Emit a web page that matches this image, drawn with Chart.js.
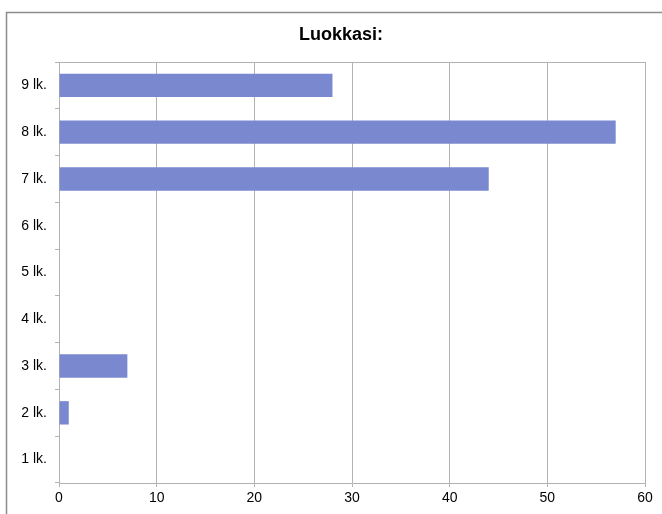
<!DOCTYPE html>
<html>
<head>
<meta charset="utf-8">
<script src="https://cdn.jsdelivr.net/npm/chart.js@4"></script>
<style>
  body { margin: 0; background: #fff; }
  #wrap { width: 662px; height: 514px; }
</style>
</head>
<body>
<div id="wrap"><canvas id="myChart" width="662" height="514"></canvas></div>
<script>
var chartTitle = 'Luokkasi:';
var labels = ['9 lk.', '8 lk.', '7 lk.', '6 lk.', '5 lk.', '4 lk.', '3 lk.', '2 lk.', '1 lk.'];
var values = [28, 57, 44, 0, 0, 0, 7, 1, 0];

// frame round the whole picture, title, top edge of plot
var framePlugin = {
  id: 'frame',
  beforeDraw: function (chart) {
    var c = chart.ctx;
    c.save();
    c.fillStyle = '#fff';
    c.fillRect(0, 0, chart.width, chart.height);
    c.strokeStyle = '#8c8c8c';
    c.lineWidth = 1.5;
    c.strokeRect(6.5, 12.5, 720, 600);
    c.restore();
  },
  afterDraw: function (chart) {
    var a = chart.chartArea;
    var c = chart.ctx;
    c.save();
    c.strokeStyle = '#b3b3b3';
    c.lineWidth = 1;
    c.beginPath();
    c.moveTo(a.left, Math.round(a.top) + 0.5);
    c.lineTo(a.right, Math.round(a.top) + 0.5);
    c.stroke();
    c.fillStyle = '#000';
    c.font = 'bold 18px "Liberation Sans"';
    c.textAlign = 'center';
    c.textBaseline = 'middle';
    c.fillText(chartTitle, 341, 35);
    c.restore();
  }
};

var ctx = document.getElementById('myChart');
var myChart = new Chart(ctx, {
  type: 'bar',
  data: {
    labels: labels,
    datasets: [{
      data: values,
      backgroundColor: '#7a89cf',
      barPercentage: 0.5,
      categoryPercentage: 1.0
    }]
  },
  options: {
    indexAxis: 'y',
    responsive: false,
    animation: false,
    layout: { padding: { left: 0, right: 17, top: 62, bottom: 0 } },
    plugins: {
      legend: { display: false },
      tooltip: { enabled: false },
      title: { display: false }
    },
    scales: {
      x: {
        min: 0,
        max: 60,
        ticks: { stepSize: 10, color: '#000', font: { family: 'Liberation Sans', size: 14 }, padding: 3 },
        grid: { color: '#b3b3b3', tickLength: 4, drawTicks: true },
        border: { color: '#b3b3b3' },
        afterFit: function (s) { s.height = 31; }
      },
      y: {
        ticks: { color: '#000', font: { family: 'Liberation Sans', size: 14 }, padding: 8 },
        grid: { offset: true, drawOnChartArea: false, drawTicks: true, tickLength: 4, color: '#b3b3b3' },
        border: { color: '#b3b3b3' },
        afterFit: function (s) { s.width = 59; }
      }
    }
  },
  plugins: [framePlugin]
});
</script>
</body>
</html>
